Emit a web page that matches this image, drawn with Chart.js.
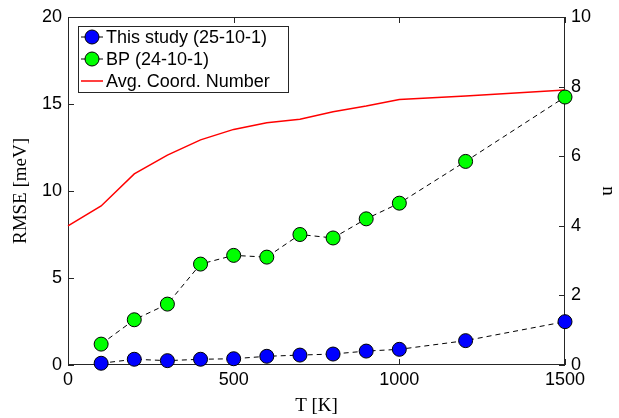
<!DOCTYPE html>
<html><head><meta charset="utf-8">
<script src="https://cdn.jsdelivr.net/npm/chart.js@4/dist/chart.umd.min.js"></script>
<style>html,body{margin:0;padding:0;background:#fff;}</style>
</head><body>
<canvas id="c" width="619" height="418"></canvas>
<script>
const tempsCoord = [0,100,200,300,400,500,600,700,800,900,1000,1200,1500];
const coordNumber = [4.0,4.57,5.49,6.03,6.47,6.77,6.96,7.06,7.28,7.44,7.63,7.73,7.9];
const tempsRmse = [100,200,300,400,500,600,700,800,900,1000,1200,1500];
const rmseThisStudy = [0.1,0.33,0.25,0.33,0.36,0.5,0.57,0.63,0.8,0.9,1.4,2.49];
const rmseBP = [1.2,2.6,3.5,5.8,6.3,6.2,7.5,7.3,8.4,9.3,11.7,15.4];
const xTicks = [0,500,1000,1500];
const yTicks = [0,5,10,15,20];
const y1Ticks = [0,2,4,6,8,10];
const labels = ['This study (25-10-1)','BP (24-10-1)','Avg. Coord. Number'];

const tickFont = {family:'"Liberation Sans", Arial, sans-serif', size:18};
const titleFont = {family:'"Liberation Serif", "DejaVu Serif", serif', size:19};

const framePlugin = {
  id:'frame',
  beforeDatasetsDraw(chart){
    const {ctx, chartArea:a, scales} = chart;
    ctx.save();
    ctx.strokeStyle = '#262626';
    ctx.lineWidth = 1;
    ctx.strokeRect(a.left+0.5, a.top+0.5, a.right-a.left-1, a.bottom-a.top-1);
    const L = 6;
    ctx.beginPath();
    xTicks.forEach(v=>{
      const px = Math.round(scales.x.getPixelForValue(v))+0.5;
      ctx.moveTo(px, a.bottom); ctx.lineTo(px, a.bottom-L);
      ctx.moveTo(px, a.top); ctx.lineTo(px, a.top+L);
    });
    yTicks.forEach(v=>{
      const py = Math.round(scales.y.getPixelForValue(v))+0.5;
      ctx.moveTo(a.left, py); ctx.lineTo(a.left+L, py);
    });
    y1Ticks.forEach(v=>{
      const py = Math.round(scales.y1.getPixelForValue(v))+0.5;
      ctx.moveTo(a.right, py); ctx.lineTo(a.right-L, py);
    });
    ctx.stroke();
    ctx.restore();
  },
  afterDraw(chart){
    const {ctx} = chart;
    const ds = chart.data.datasets;
    ctx.save();
    const bx = 78, by = 26, bw = 210, bh = 66;
    ctx.fillStyle = '#fff';
    ctx.fillRect(bx, by, bw, bh);
    ctx.strokeStyle = '#262626';
    ctx.lineWidth = 1;
    ctx.strokeRect(bx+0.5, by+0.5, bw, bh);
    const rows = [37, 59, 81];
    ctx.font = '18px "Liberation Sans", Arial, sans-serif';
    ctx.textBaseline = 'middle';
    ds.forEach((d,i)=>{
      const y = rows[i];
      ctx.beginPath();
      ctx.strokeStyle = d.legendLine;
      ctx.lineWidth = d.legendLine === '#ff0000' ? 1.5 : 1;
      ctx.moveTo(81, y); ctx.lineTo(103, y);
      ctx.stroke();
      if (d.pointRadius > 0) {
        ctx.beginPath();
        ctx.arc(92, y, 7, 0, Math.PI*2);
        ctx.fillStyle = d.pointBackgroundColor;
        ctx.fill();
        ctx.strokeStyle = '#000';
        ctx.lineWidth = 1;
        ctx.stroke();
      }
      ctx.fillStyle = '#000';
      ctx.fillText(d.label, 106, y+1);
    });
    ctx.restore();
  }
};

const plain = v => String(v);

new Chart(document.getElementById('c'), {
  type:'line',
  data:{datasets:[
    {label:labels[0], data: tempsRmse.map((t,i)=>({x:t,y:rmseThisStudy[i]})), yAxisID:'y',
     borderColor:'#000', borderWidth:1, borderDash:[5,4], pointRadius:7, pointHoverRadius:7,
     pointBackgroundColor:'#0000ff', pointBorderColor:'#000', pointBorderWidth:1, clip:false, legendLine:'#000'},
    {label:labels[1], data: tempsRmse.map((t,i)=>({x:t,y:rmseBP[i]})), yAxisID:'y',
     borderColor:'#000', borderWidth:1, borderDash:[5,4], pointRadius:7, pointHoverRadius:7,
     pointBackgroundColor:'#00ff00', pointBorderColor:'#000', pointBorderWidth:1, clip:false, legendLine:'#000'},
    {label:labels[2], data: tempsCoord.map((t,i)=>({x:t,y:coordNumber[i]})), yAxisID:'y1',
     borderColor:'#ff0000', borderWidth:1.5, pointRadius:0, clip:false, legendLine:'#ff0000'}
  ]},
  options:{
    responsive:false, animation:false,
    layout:{padding:{top:17,left:0,right:0,bottom:0}},
    plugins:{legend:{display:false}, tooltip:{enabled:false}},
    scales:{
      x:{type:'linear', min:0, max:1500,
         afterBuildTicks: s=>{ s.ticks = xTicks.map(v=>({value:v})); },
         ticks:{font:tickFont, color:'#000', padding:4, maxRotation:0, autoSkip:false, callback: plain},
         grid:{display:false, drawTicks:false}, border:{display:false},
         title:{display:true, text:'T [K]', font:titleFont, color:'#000', padding:{top:0,bottom:1}},
         afterFit: s=>{ s.height = 53; }},
      y:{type:'linear', position:'left', min:0, max:20,
         afterBuildTicks: s=>{ s.ticks = yTicks.map(v=>({value:v})); },
         ticks:{font:tickFont, color:'#000', padding:6, callback: plain},
         grid:{display:false, drawTicks:false}, border:{display:false},
         title:{display:true, text:'RMSE [meV]', font:titleFont, color:'#000', padding:{top:10,bottom:0}},
         afterFit: s=>{ s.width = 68; }},
      y1:{type:'linear', position:'right', min:0, max:10,
         afterBuildTicks: s=>{ s.ticks = y1Ticks.map(v=>({value:v})); },
         ticks:{font:tickFont, color:'#000', padding:6, callback: plain},
         grid:{display:false, drawTicks:false}, border:{display:false},
         title:{display:true, text:'n', font:titleFont, color:'#000', padding:{top:0,bottom:2}},
         afterFit: s=>{ s.width = 54; }}
    }
  },
  plugins:[framePlugin]
});
</script>
</body></html>
